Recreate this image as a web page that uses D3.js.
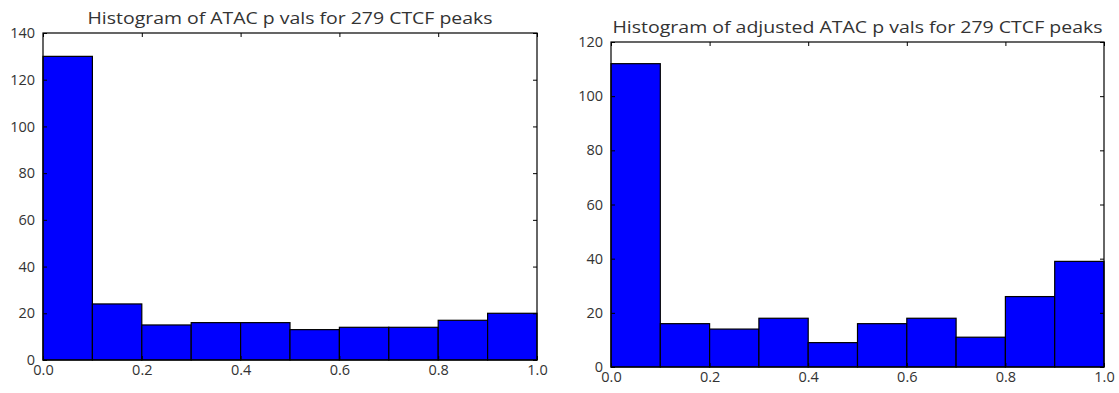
<!DOCTYPE html>
<html>
<head>
<meta charset="utf-8">
<script src="https://cdn.jsdelivr.net/npm/d3@7"></script>
<style>
  html, body { margin: 0; padding: 0; background: #fff; }
  svg { display: block; }
  text { font-family: "Open Sans", sans-serif; fill: #333; }
</style>
</head>
<body>
<svg id="chart" width="1119" height="393"></svg>
<script>
// Bin edges shared by both histograms
const binEdges = [0.0, 0.1, 0.2, 0.3, 0.4, 0.5, 0.6, 0.7, 0.8, 0.9, 1.0];
// Counts per bin
const rawCounts = [130, 24, 15, 16, 16, 13, 14, 14, 17, 20];
const adjustedCounts = [112, 16, 14, 18, 9, 16, 18, 11, 26, 39];
// Tick labels
const xTicks = [0.0, 0.2, 0.4, 0.6, 0.8, 1.0];
const rawYTicks = [0, 20, 40, 60, 80, 100, 120, 140];
const adjustedYTicks = [0, 20, 40, 60, 80, 100, 120];
const titles = [
  "Histogram of ATAC p vals for 279 CTCF peaks",
  "Histogram of adjusted ATAC p vals for 279 CTCF peaks"
];

const svg = d3.select("#chart");

function drawPanel(cfg) {
  const { left, right, top, bottom, counts, yTicks, yMax, title, titleWidth } = cfg;
  const g = svg.append("g");
  const x = d3.scaleLinear().domain([0, 1]).range([left, right]);
  const y = d3.scaleLinear().domain([0, yMax]).range([bottom, top]);

  // bars
  g.selectAll("rect.bar")
    .data(counts)
    .join("rect")
    .attr("class", "bar")
    .attr("x", (d, i) => x(binEdges[i]))
    .attr("width", (d, i) => x(binEdges[i + 1]) - x(binEdges[i]))
    .attr("y", d => y(d))
    .attr("height", d => y(0) - y(d))
    .attr("fill", "#0000ff")
    .attr("stroke", "#000")
    .attr("stroke-width", 1.2);

  // axes: ticks pointing inward on all four sides
  const tickLen = 4;
  const bottomAxis = d3.axisBottom(x).tickValues(xTicks).tickFormat(d3.format(".1f"))
    .tickSizeInner(-tickLen).tickSizeOuter(0).tickPadding(5);
  const topAxis = d3.axisTop(x).tickValues(xTicks).tickFormat("")
    .tickSizeInner(-tickLen).tickSizeOuter(0);
  const leftAxis = d3.axisLeft(y).tickValues(yTicks).tickFormat(d3.format("d"))
    .tickSizeInner(-tickLen).tickSizeOuter(0).tickPadding(8);
  const rightAxis = d3.axisRight(y).tickValues(yTicks).tickFormat("")
    .tickSizeInner(-tickLen).tickSizeOuter(0);

  const style = sel => {
    sel.select(".domain").remove();
    sel.selectAll("line").attr("stroke", "#000").attr("stroke-width", 1);
    sel.selectAll("text").style("font-family", "Open Sans, sans-serif")
      .style("font-size", "14.5px").attr("fill", "#333");
  };
  g.append("g").attr("transform", `translate(0,${bottom})`).call(bottomAxis).call(style);
  g.append("g").attr("transform", `translate(0,${top})`).call(topAxis).call(style);
  g.append("g").attr("transform", `translate(${left},0)`).call(leftAxis).call(style);
  g.append("g").attr("transform", `translate(${right},0)`).call(rightAxis).call(style);

  // frame
  g.append("rect")
    .attr("x", left).attr("y", top)
    .attr("width", right - left).attr("height", bottom - top)
    .attr("fill", "none").attr("stroke", "#000").attr("stroke-width", 1.2);

  g.append("text")
    .attr("x", (left + right) / 2)
    .attr("y", top - 9)
    .attr("text-anchor", "middle")
    .attr("textLength", titleWidth)
    .attr("lengthAdjust", "spacingAndGlyphs")
    .style("font-size", "17px")
    .text(title);
}

drawPanel({ left: 43, right: 537, top: 33, bottom: 360,
  counts: rawCounts, yTicks: rawYTicks, yMax: 140, title: titles[0], titleWidth: 405 });
drawPanel({ left: 611, right: 1104, top: 42, bottom: 367,
  counts: adjustedCounts, yTicks: adjustedYTicks, yMax: 120, title: titles[1], titleWidth: 490 });
</script>
</body>
</html>
